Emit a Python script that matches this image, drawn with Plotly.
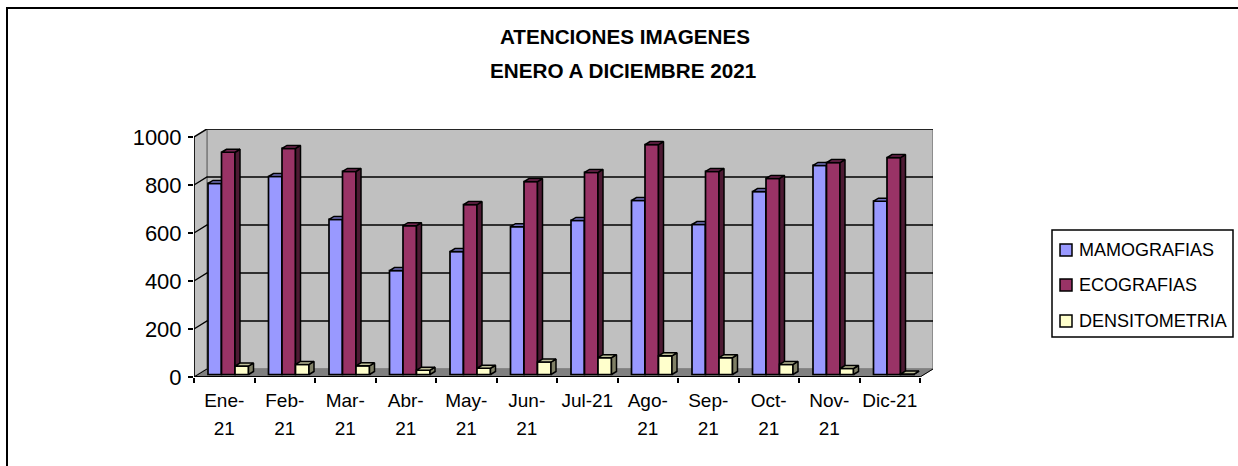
import plotly.graph_objects as go

W, H = 1238, 466

LABELS_LINE1 = ["Ene-", "Feb-", "Mar-", "Abr-", "May-", "Jun-", "Jul-21", "Ago-", "Sep-", "Oct-", "Nov-", "Dic-21"]
LABELS_LINE2 = ["21", "21", "21", "21", "21", "21", "", "21", "21", "21", "21", ""]
MAMOGRAFIAS = [796, 825, 646, 433, 512, 616, 642, 725, 625, 762, 871, 722]
ECOGRAFIAS = [926, 942, 846, 620, 708, 804, 842, 958, 846, 817, 883, 904]
DENSITOMETRIA = [35, 42, 36, 18, 26, 52, 70, 78, 70, 42, 25, 2]
Y_TICKS = [0, 200, 400, 600, 800, 1000]
TITLE_1 = "ATENCIONES IMAGENES"
TITLE_2 = "ENERO A DICIEMBRE 2021"

# Pixel geometry of the pseudo-3D plot box
X0, Y0 = 194, 377          # front-left corner at value 0
STEP = 60.5                # px per category
PX_PER_UNIT = 0.24         # px per value unit
DEPTH_X, DEPTH_Y = 13, 8   # wall depth
GAP_X, GAP_Y = 4, 2.5      # gap in front of bars
BAR_DX, BAR_DY = 5, 3      # bar depth
BAR_W = 13.5 / STEP

dx = DEPTH_X / STEP
dy = DEPTH_Y / PX_PER_UNIT
gx = GAP_X / STEP
gy = GAP_Y / PX_PER_UNIT
bx = BAR_DX / STEP
by = BAR_DY / PX_PER_UNIT
n = len(LABELS_LINE1)

x_min, x_max = 0, n + dx
y_min, y_max = 0, 1000 + dy
x_right = X0 + x_max * STEP
y_top = Y0 - y_max * PX_PER_UNIT
X_DOMAIN = [X0 / W, x_right / W]
Y_DOMAIN = [1 - Y0 / H, 1 - y_top / H]

series = [
    ("MAMOGRAFIAS", MAMOGRAFIAS, "#9999FF", "#7373BF", "#4C4C80"),
    ("ECOGRAFIAS", ECOGRAFIAS, "#993366", "#732650", "#4D1A33"),
    ("DENSITOMETRIA", DENSITOMETRIA, "#FFFFCC", "#BFBF99", "#808066"),
]

fig = go.Figure()


def poly(xs, ys, fill, line="black", width=1.5, xa="x", ya="y"):
    fig.add_trace(go.Scatter(x=xs, y=ys, mode="lines", fill="toself", fillcolor=fill,
                             line=dict(color=line, width=width), hoverinfo="skip",
                             showlegend=False, xaxis=xa, yaxis=ya))


# Walls and floor
poly([dx, n + dx, n + dx, dx, dx], [dy, dy, 1000 + dy, 1000 + dy, dy], "#C0C0C0", "#808080", 1.6)
poly([0, dx, dx, 0, 0], [0, dy, 1000 + dy, 1000, 0], "#C0C0C0", "#808080", 1.6)
poly([0, n, n + dx, dx, 0], [0, 0, dy, dy, 0], "#808080", "#808080", 1)

# Gridlines on the walls
gx_pts, gy_pts = [], []
for t in Y_TICKS[1:]:
    gx_pts += [0, dx, n + dx, None]
    gy_pts += [t, t + dy, t + dy, None]
fig.add_trace(go.Scatter(x=gx_pts, y=gy_pts, mode="lines", line=dict(color="black", width=1.4),
                         hoverinfo="skip", showlegend=False))
# Axis lines and floor depth edges
fig.add_trace(go.Scatter(x=[0, n], y=[0, 0], mode="lines", line=dict(color="black", width=2),
                         hoverinfo="skip", showlegend=False))
fig.add_trace(go.Scatter(x=[0, 0], y=[0, 1000], mode="lines", line=dict(color="black", width=1.6),
                         hoverinfo="skip", showlegend=False))
fig.add_trace(go.Scatter(x=[0, dx, None, n, n + dx], y=[0, dy, None, 0, dy], mode="lines",
                         line=dict(color="black", width=1), hoverinfo="skip", showlegend=False))

# Carrier traces so the extra axes are drawn (tick marks; second label line)
for xa in ("x2", "x6"):
    fig.add_trace(go.Scatter(x=[0], y=[0], mode="none", xaxis=xa, yaxis="y", hoverinfo="skip", showlegend=False))

# Bars: each series on its own overlaid subplot so it paints over the previous one
margin = (1 - 3 * BAR_W) / 2
for s, (name, vals, front, top, side) in enumerate(series):
    xa, ya = f"x{s + 3}", f"y{s + 3}"
    lefts = [i + margin + s * BAR_W + gx for i in range(n)]
    sx, sy, tx, ty = [], [], [], []
    for l, v in zip(lefts, vals):
        r = l + BAR_W
        sx += [r, r + bx, r + bx, r, r, None]
        sy += [gy, gy + by, gy + v + by, gy + v, gy, None]
        tx += [l, l + bx, r + bx, r, l, None]
        ty += [gy + v, gy + v + by, gy + v + by, gy + v, gy + v, None]
    fig.add_trace(go.Bar(x=lefts, y=vals, base=gy, width=BAR_W, offset=0, name=name, showlegend=False,
                         marker=dict(color=front, line=dict(color="black", width=1.7)),
                         xaxis=xa, yaxis=ya, hovertemplate=name + ": %{y}<extra></extra>"))
    poly(sx, sy, side, xa=xa, ya=ya)
    poly(tx, ty, top, xa=xa, ya=ya)

hidden_x = dict(domain=X_DOMAIN, range=[x_min, x_max], overlaying="x", visible=False, fixedrange=True)
hidden_y = dict(domain=Y_DOMAIN, range=[y_min, y_max], overlaying="y", visible=False, fixedrange=True)


def px_x(p):
    return p / W


def px_y(p):
    return 1 - p / H


shapes = [
    # Chart frame: left and top edges
    dict(type="line", xref="paper", yref="paper", x0=px_x(7), x1=px_x(7), y0=0, y1=px_y(8),
         line=dict(color="black", width=2)),
    dict(type="line", xref="paper", yref="paper", x0=px_x(6), x1=1, y0=px_y(8), y1=px_y(8),
         line=dict(color="black", width=2)),
    # Legend box
    dict(type="rect", xref="paper", yref="paper", x0=px_x(1052), x1=px_x(1233), y0=px_y(337), y1=px_y(230),
         line=dict(color="black", width=1.5), fillcolor="white"),
]
annotations = [
    dict(text=f"<b>{TITLE_2}</b>", xref="paper", yref="paper", x=px_x(623), y=px_y(70), xanchor="center",
         yanchor="middle", showarrow=False, font=dict(size=20.7)),
]
LEGEND_Y = [250, 285, 321]
for (name, _, front, _, _), ly in zip(series, LEGEND_Y):
    shapes.append(dict(type="rect", xref="paper", yref="paper", x0=px_x(1060), x1=px_x(1072),
                       y0=px_y(ly + 6), y1=px_y(ly - 6), line=dict(color="black", width=1.5), fillcolor=front))
    annotations.append(dict(text=name, xref="paper", yref="paper", x=px_x(1077), y=px_y(ly), xanchor="left",
                            yanchor="middle", showarrow=False, font=dict(size=18)))

fig.update_layout(
    template="none",
    width=W, height=H,
    margin=dict(l=0, r=0, t=0, b=0),
    paper_bgcolor="white", plot_bgcolor="rgba(0,0,0,0)",
    barmode="overlay", showlegend=False,
    font=dict(family="Liberation Sans, Arial, sans-serif", color="black"),
    title=dict(text=f"<b>{TITLE_1}</b>", font=dict(size=20.7), x=px_x(625), xanchor="center",
               y=px_y(37), yanchor="middle"),
    shapes=shapes, annotations=annotations,
    xaxis=dict(domain=X_DOMAIN, range=[x_min, x_max], tickmode="array",
               tickvals=[i + 0.5 for i in range(n)], ticktext=LABELS_LINE1, ticks="",
               ticklabelstandoff=10, showgrid=False, zeroline=False, showline=False,
               tickfont=dict(size=19), fixedrange=True),
    xaxis2=dict(domain=X_DOMAIN, range=[x_min, x_max], overlaying="x", anchor="y",
                tickmode="array", tickvals=list(range(n + 1)), ticktext=[""] * (n + 1),
                ticks="outside", ticklen=5, tickwidth=1.5, tickcolor="black", showgrid=False,
                zeroline=False, fixedrange=True),
    xaxis6=dict(domain=X_DOMAIN, range=[x_min, x_max], overlaying="x", anchor="y",
                tickmode="array", tickvals=[i + 0.5 for i in range(n)], ticktext=LABELS_LINE2,
                ticks="", ticklabelstandoff=38, showgrid=False, zeroline=False,
                tickfont=dict(size=19), fixedrange=True),
    yaxis=dict(domain=Y_DOMAIN, range=[y_min, y_max], tickmode="array", tickvals=Y_TICKS,
               ticks="outside", ticklen=5, tickwidth=1.5, tickcolor="black", showgrid=False,
               zeroline=False, showline=False, ticklabelstandoff=2, tickfont=dict(size=22), fixedrange=True),
    xaxis3=dict(hidden_x, anchor="y3"), xaxis4=dict(hidden_x, anchor="y4"), xaxis5=dict(hidden_x, anchor="y5"),
    yaxis3=dict(hidden_y, anchor="x3"), yaxis4=dict(hidden_y, anchor="x4"), yaxis5=dict(hidden_y, anchor="x5"),
)

fig.write_html("out.html", config=dict(displayModeBar=False),
               post_script="document.body.style.margin='0';document.body.style.overflow='hidden';")
